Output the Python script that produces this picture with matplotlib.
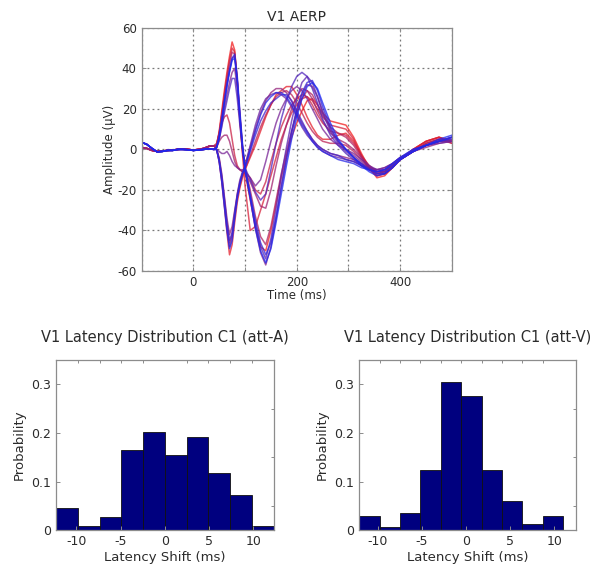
import matplotlib
matplotlib.use("Agg")
import matplotlib.pyplot as plt
import numpy as np

# ---------------------------------------------------------------- data
# baseline part (ms) shared by the traces, two variants (red-ish / blue-ish)
t_base = [-100, -90, -80, -70, -60, -50, -40, -30, -20, -10, 0, 10, 20, 30, 40]
base_red = [1.0, 0.5, -0.5, -1.0, -0.8, -0.5, -0.3, 0.0, 0.2, 0.0, -0.3, 0.0, 0.5, 1.5, 1.8]
base_blue = [3.5, 2.5, 0.5, -1.2, -1.0, -0.5, -0.5, 0.0, 0.0, -0.2, -0.5, -0.3, 0.0, 0.3, 0.0]

# response part (ms)
t_resp = [45, 50, 55, 60, 65, 70, 75, 80, 85, 90, 95, 100, 110, 120, 130, 140, 150, 160,
          170, 180, 190, 200, 210, 220, 230, 240, 250, 265, 280, 295, 310, 325, 340, 355,
          370, 385, 400, 425, 450, 475, 500]

# one trace per condition, ordered from red to blue
traces = [
    [2, 9, 19, 29, 38, 46, 53, 49, 33, 14, -1, -11, -25, -38, -48, -50, -40, -27, -14, -3, 6, 13,
     19, 24, 25, 22, 18, 14, 13, 12, 6, -2, -9, -14, -13, -9, -5, 0, 4, 6, 4],
    [0, -6, -16, -28, -41, -52, -47, -36, -26, -19, -14, -10, -4, 2, 9, 16, 22, 27, 29, 31, 31, 27,
     22, 16, 11, 7, 5, 5, 7, 8, 4, -3, -9, -13, -12, -9, -5, 0, 4, 6, 3],
    [2, 8, 17, 27, 36, 44, 50, 48, 34, 16, -2, -18, -40, -38, -30, -22, -13, -4, 5, 12, 18, 22,
     25, 26, 24, 20, 16, 12, 11, 10, 5, -3, -10, -13, -12, -9, -5, 0, 4, 6, 4],
    [3, 8, 13, 16, 17, 13, 5, -3, -8, -10, -11, -11, -14, -20, -22, -16, -6, 3, 11, 17, 22, 25,
     27, 26, 22, 17, 13, 9, 8, 7, 3, -3, -8, -11, -11, -8, -5, -1, 3, 5, 4],
    [0, -5, -14, -25, -37, -46, -42, -33, -24, -18, -13, -10, -3, 4, 11, 17, 22, 26, 28, 29, 27, 23,
     18, 13, 9, 6, 4, 3, 3, 2, -1, -5, -9, -12, -11, -8, -5, -1, 3, 5, 3],
    [2, 8, 17, 26, 35, 42, 48, 47, 34, 17, 2, -9, -20, -33, -43, -47, -38, -25, -12, -1, 9, 18,
     25, 29, 27, 22, 17, 11, 8, 6, 2, -4, -9, -12, -12, -9, -5, -1, 3, 5, 4],
    [1, 4, 6, 7, 7, 4, -1, -6, -9, -10, -11, -12, -16, -22, -28, -29, -20, -8, 3, 12, 20, 26,
     30, 29, 25, 19, 14, 8, 5, 3, 0, -4, -8, -11, -11, -8, -5, -1, 2, 4, 4],
    [0, -4, -12, -23, -34, -42, -38, -30, -22, -16, -12, -8, 1, 10, 18, 24, 28, 30, 30, 28, 24, 18,
     13, 9, 5, 2, 0, -2, -3, -4, -5, -7, -9, -10, -9, -7, -4, -1, 1, 3, 4],
    [1, 5, 12, 20, 27, 33, 38, 40, 30, 15, 1, -10, -24, -39, -51, -57, -48, -34, -19, -5, 8, 19,
     27, 32, 31, 26, 19, 10, 4, 0, -3, -6, -9, -11, -11, -8, -5, -1, 2, 4, 5],
    [0, -1, -2, -2, -1, -3, -6, -8, -9, -10, -10, -11, -14, -18, -15, -6, 4, 13, 20, 25, 29, 31,
     29, 25, 20, 15, 10, 5, 2, 0, -2, -5, -8, -10, -10, -8, -5, -1, 2, 4, 4],
    [0, -6, -15, -27, -39, -48, -43, -32, -22, -15, -11, -8, 2, 12, 20, 25, 27, 28, 27, 25, 21, 16,
     11, 7, 4, 1, -1, -3, -4, -5, -6, -8, -9, -10, -9, -7, -4, -1, 2, 3, 4],
    [1, 7, 15, 24, 32, 39, 45, 46, 34, 17, 1, -10, -23, -37, -48, -54, -44, -29, -13, 1, 14, 25,
     33, 36, 33, 26, 18, 9, 3, -1, -4, -7, -10, -12, -11, -8, -5, -1, 2, 4, 6],
    [1, 5, 11, 18, 24, 30, 35, 35, 25, 12, 0, -9, -15, -21, -25, -22, -10, 3, 15, 24, 31, 36,
     38, 36, 30, 23, 15, 7, 2, -2, -5, -8, -10, -11, -10, -8, -5, -1, 2, 4, 6],
    [0, -5, -13, -24, -36, -45, -41, -31, -23, -17, -12, -9, -1, 7, 14, 19, 23, 25, 27, 27, 24, 19,
     14, 9, 5, 2, 0, -2, -3, -5, -6, -8, -10, -11, -10, -7, -4, 0, 2, 4, 5],
    [1, 6, 14, 23, 32, 39, 45, 47, 36, 19, 3, -9, -22, -35, -46, -52, -46, -33, -18, -4, 9, 20,
     28, 33, 34, 29, 21, 11, 4, 0, -4, -7, -10, -12, -12, -9, -5, -1, 2, 4, 6],
    [0, -6, -16, -28, -40, -49, -45, -34, -24, -17, -12, -9, 0, 9, 17, 23, 26, 28, 28, 26, 22, 17,
     12, 8, 4, 1, -1, -3, -5, -6, -7, -9, -10, -11, -10, -7, -4, 0, 2, 4, 6],
    [1, 6, 14, 23, 31, 38, 44, 45, 33, 16, 1, -10, -24, -39, -50, -56, -49, -36, -22, -8, 5, 16,
     25, 31, 33, 30, 23, 13, 5, 0, -4, -8, -11, -13, -12, -9, -5, -1, 2, 5, 7],
]

# latency histograms (probability per bin)
centers_a = [-11.07, -8.61, -6.15, -3.69, -1.23, 1.23, 3.69, 6.15, 8.61, 11.07]
prob_a = [0.046, 0.009, 0.027, 0.165, 0.201, 0.154, 0.192, 0.118, 0.073, 0.009]
centers_v = [-10.93, -8.62, -6.31, -4.00, -1.69, 0.62, 2.93, 5.24, 7.55, 9.86]
prob_v = [0.029, 0.006, 0.036, 0.123, 0.304, 0.276, 0.123, 0.059, 0.012, 0.029]

# ---------------------------------------------------------------- style
plt.rcParams['font.family'] = ['DejaVu Sans']
plt.rcParams['axes.unicode_minus'] = False
txt = '#2b2b2b'
frame = '#8c8c8c'


def style_axes(ax, size):
    for s in ax.spines.values():
        s.set_color(frame)
        s.set_linewidth(0.9)
    ax.tick_params(which='both', direction='in', colors=frame, labelcolor=txt,
                   labelsize=size, length=3, width=0.7)


fig = plt.figure(figsize=(5.9, 5.67), dpi=100)

# ================================ AERP traces ================================
ax0 = fig.add_axes([0.240, 0.522, 0.526, 0.429])
red = np.array([0.95, 0.12, 0.12])
blue = np.array([0.10, 0.15, 0.95])
n = len(traces)
for i, tr in enumerate(traces):
    c = i / (n - 1)
    col = (1 - c) * red + c * blue
    base = base_red if c < 0.5 else base_blue
    ax0.plot(t_base + t_resp, base + tr, color=col, lw=1.1, alpha=0.75)

ax0.set_xlim(-100, 500)
ax0.set_ylim(-60, 60)
ax0.set_xticks(range(-100, 501, 100))
ax0.set_xticklabels(['', '0', '', '200', '', '400', ''])
ax0.set_yticks(range(-60, 61, 20))
ax0.grid(True, linestyle=(0, (1.5, 2.5)), color='#777777', lw=0.9)
style_axes(ax0, 8.5)
ax0.tick_params(top=True, right=True)
ax0.set_title('V1 AERP', fontsize=10, color=txt, pad=5)
ax0.set_xlabel('Time (ms)', fontsize=8.5, color=txt, labelpad=0)
ax0.set_ylabel('Amplitude (\u03bcV)', fontsize=8.5, color=txt, labelpad=1)

# ============================ latency histograms =============================
panels = [
    ([0.095, 0.065, 0.369, 0.300], centers_a, prob_a, 2.46, (-12.3, 12.3),
     'V1 Latency Distribution C1 (att-A)'),
    ([0.609, 0.065, 0.367, 0.300], centers_v, prob_v, 2.31, (-12.08, 12.45),
     'V1 Latency Distribution C1 (att-V)'),
]
for rect, cen, prob, w, xl, title in panels:
    ax = fig.add_axes(rect)
    ax.bar(cen, prob, width=w, color='#00007f', edgecolor='#101010', linewidth=0.6)
    ax.set_xlim(*xl)
    ax.set_ylim(0, 0.35)
    ax.set_xticks([-10, -5, 0, 5, 10])
    ax.set_xticks([c + w / 2 for c in cen[:-1]], minor=True)
    ax.set_yticks([0, 0.1, 0.2, 0.3])
    ax.set_yticklabels(['0', '0.1', '0.2', '0.3'])
    ax.set_yticks([0.05, 0.1, 0.15, 0.2, 0.25, 0.3], minor=True)
    style_axes(ax, 9)
    ax.tick_params(which='major', top=False, right=False)
    ax.tick_params(which='minor', bottom=False, left=False, top=True, right=True, length=2.5)
    ax.set_title(title, fontsize=10.5, color=txt, pad=13)
    ax.set_xlabel('Latency Shift (ms)', fontsize=9.5, color=txt, labelpad=2)
    ax.set_ylabel('Probability', fontsize=9.5, color=txt, labelpad=4)

fig.savefig('out.png', dpi=100)
